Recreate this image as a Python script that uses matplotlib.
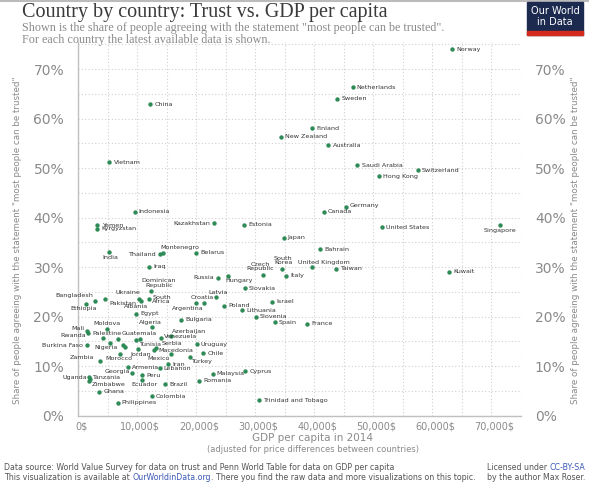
import matplotlib
matplotlib.use("Agg")
import matplotlib.pyplot as plt
from matplotlib.patches import Rectangle
from matplotlib.ticker import FuncFormatter, MultipleLocator
from matplotlib.transforms import ScaledTranslation

# ---------------- data ----------------
countries = [
    "Norway", "Netherlands", "Sweden", "China", "Finland", "New Zealand", "Australia",
    "Vietnam", "Saudi Arabia", "Switzerland", "Hong Kong", "Germany", "Canada",
    "Indonesia", "Kazakhstan", "Estonia", "Singapore", "Yemen", "United States",
    "Kyrgyzstan", "Japan", "Bahrain", "India", "Montenegro", "Belarus", "Thailand",
    "Iraq", "United Kingdom", "South Korea", "Taiwan", "Kuwait", "Czech Republic",
    "Italy", "Hungary", "Russia", "Slovakia", "Dominican Republic", "Latvia",
    "Ukraine", "South Africa", "Pakistan", "Bangladesh", "Albania", "Israel",
    "Croatia", "Argentina", "Ethiopia", "Poland", "Lithuania", "Egypt", "Slovenia",
    "Bulgaria", "Spain", "France", "Algeria", "Moldova", "Mali", "Rwanda",
    "Azerbaijan", "Palestine", "Venezuela", "Guatemala", "Tunisia", "Serbia",
    "Uruguay", "Nigeria", "Burkina Faso", "Macedonia", "Jordan", "Chile", "Mexico",
    "Morocco", "Turkey", "Zambia", "Iran", "Armenia", "Lebanon", "Cyprus",
    "Georgia", "Malaysia", "Peru", "Uganda", "Tanzania", "Ecuador", "Zimbabwe",
    "Romania", "Brazil", "Ghana", "Colombia", "Trinidad and Tobago", "Philippines",
]
gdp_per_capita = [
    63300, 46500, 43900, 12200, 39700, 34400, 42400,
    5300, 47300, 57500, 51000, 45300, 41600,
    9600, 23100, 28100, 71400, 3300, 51500,
    3300, 34800, 41000, 5200, 14400, 20000, 13900,
    12000, 39600, 34500, 43600, 62800, 31300,
    35200, 25400, 23700, 28200, 12400, 23300,
    10300, 12000, 4600, 2900, 10700, 32800,
    21400, 20000, 1400, 24800, 27800, 9800, 30100,
    17400, 33300, 38800, 12600, 4900, 1600, 1700,
    15700, 4300, 14000, 6800, 9800, 13200,
    20100, 5400, 1600, 12900, 10200, 21200, 15700,
    7100, 19000, 3700, 15300, 8500, 13800, 28300,
    9200, 22800, 10800, 1900, 2100, 10900, 1900,
    20500, 14700, 3600, 12500, 30700, 6700,
]
trust_share = [
    74.0, 66.4, 64.0, 62.9, 58.1, 56.3, 54.6,
    51.2, 50.6, 49.6, 48.4, 42.1, 41.2,
    41.2, 38.9, 38.6, 38.6, 38.5, 38.1,
    37.7, 35.9, 33.6, 33.0, 32.9, 32.9, 32.6,
    30.1, 30.0, 29.7, 29.7, 29.1, 28.5,
    28.2, 28.2, 27.8, 25.7, 25.1, 23.9,
    23.6, 23.5, 23.5, 23.2, 23.1, 23.0,
    22.8, 22.7, 22.5, 22.2, 21.3, 20.6, 20.0,
    19.4, 18.9, 18.5, 17.8, 17.5, 17.1, 16.7,
    16.1, 15.7, 15.7, 15.5, 15.3, 13.7,
    14.4, 14.6, 14.2, 13.2, 13.4, 12.6, 12.4,
    12.4, 11.9, 11.0, 10.4, 9.8, 9.7, 8.9,
    8.6, 8.4, 8.1, 7.7, 7.4, 7.2, 7.0,
    7.0, 6.3, 4.8, 3.9, 3.1, 2.6,
]
# unlabeled points
extra_gdp = [7600, 8000, 10500]
extra_trust = [14.2, 13.9, 15.4]

display_names = {
    "South Korea": "South\nKorea",
    "Czech Republic": "Czech\nRepublic",
    "Dominican Republic": "Dominican\nRepublic",
    "South Africa": "South\nAfrica",
}

y_ticks = [0, 10, 20, 30, 40, 50, 60, 70]
x_ticks = [0, 10000, 20000, 30000, 40000, 50000, 60000, 70000]

title = "Country by country: Trust vs. GDP per capita"
subtitle1 = 'Shown is the share of people agreeing with the statement "most people can be trusted".'
subtitle2 = "For each country the latest available data is shown."
ylabel = 'Share of people agreeing with the statement "most people can be trusted"'
xlabel1 = "GDP per capita in 2014"
xlabel2 = "(adjusted for price differences between countries)"

# ---------------- label placement (style) ----------------
# name: (dx pt, dy pt, ha)
place = {
    "Singapore": (0, -4.5, "center"),
    "Kazakhstan": (-3, 0, "right"),
    "Thailand": (-3, 0, "right"),
    "Russia": (-3, 0, "right"),
    "India": (1.3, -3.6, "center"),
    "Montenegro": (-2, 3.6, "left"),
    "United Kingdom": (8.6, 3.6, "center"),
    "South Korea": (1, 5.8, "center"),
    "Czech Republic": (-1.8, 5.8, "center"),
    "Hungary": (-1.9, -3.6, "left"),
    "Dominican Republic": (5.5, 6.0, "center"),
    "Latvia": (1.7, 3.6, "center"),
    "Ukraine": (-7.5, 4.8, "center"),
    "South Africa": (2.4, 0, "left"),
    "Pakistan": (2.7, -2.9, "left"),
    "Bangladesh": (-1, 3.6, "right"),
    "Albania": (-3.6, -4.0, "center"),
    "Croatia": (-1.7, 3.6, "center"),
    "Argentina": (-6.1, -3.6, "center"),
    "Ethiopia": (-2, -3.4, "center"),
    "Algeria": (-1.6, 3.3, "center"),
    "Moldova": (0.2, 3.6, "center"),
    "Mali": (-2.2, 1.4, "right"),
    "Rwanda": (-1.7, -1.7, "right"),
    "Azerbaijan": (1, 3.4, "left"),
    "Palestine": (2.4, 3.2, "center"),
    "Guatemala": (2.4, 3.9, "left"),
    "Venezuela": (2, 1.2, "left"),
    "Tunisia": (2.0, -3.3, "left"),
    "Serbia": (4.2, 3.2, "left"),
    "Nigeria": (-2.9, -3.4, "center"),
    "Burkina Faso": (-3, 0, "right"),
    "Jordan": (2, -3.6, "center"),
    "Mexico": (-8.4, -2.9, "center"),
    "Morocco": (-0.7, -2.9, "center"),
    "Turkey": (0.5, -3.6, "left"),
    "Zambia": (-4, 2.9, "right"),
    "Lebanon": (3, -1, "left"),
    "Georgia": (-1.5, 0.7, "right"),
    "Uganda": (-1.5, 0, "right"),
    "Tanzania": (1.5, 1, "left"),
    "Zimbabwe": (2, -2.4, "left"),
    "Ecuador": (1.6, -3.6, "center"),
    "Germany": (3, 1, "left"),
}

# ---------------- figure ----------------
W, H = 589, 484
fig = plt.figure(figsize=(W / 100, H / 100), dpi=100)
fig.patch.set_facecolor("white")

ax_l, ax_r, ax_t, ax_b = 78, 521, 42, 415.5
ax = fig.add_axes([ax_l / W, 1 - ax_b / H, (ax_r - ax_l) / W, (ax_b - ax_t) / H])
ax.set_xlim(0, 75000)
ax.set_ylim(0, 75.5)

dot_color = "#2e8b57"
ax.scatter(gdp_per_capita, trust_share, s=10, color=dot_color, zorder=3, linewidths=0)
ax.scatter(extra_gdp, extra_trust, s=10, color=dot_color, zorder=3, linewidths=0)

for name, gx, ty in zip(countries, gdp_per_capita, trust_share):
    dx, dy, ha = place.get(name, (3, 0, "left"))
    ax.annotate(display_names.get(name, name), (gx, ty), xytext=(dx, dy),
                textcoords="offset points", ha=ha, va="center",
                fontsize=4.6, color="#333333", linespacing=0.85, zorder=4)

# grid
ax.xaxis.set_minor_locator(MultipleLocator(5000))
ax.yaxis.set_minor_locator(MultipleLocator(5))
ax.set_xticks(x_ticks)
ax.set_yticks(y_ticks)
ax.grid(True, which="both", linestyle=(0, (1, 2)), color="#d0d0d0", linewidth=0.8)
ax.set_axisbelow(True)

for s in ["top", "right"]:
    ax.spines[s].set_visible(False)
for s in ["left", "bottom"]:
    ax.spines[s].set_color("#c0c0c0")
    ax.spines[s].set_linewidth(1.0)

ax.xaxis.set_major_formatter(FuncFormatter(lambda v, p: f"{int(v):,}$"))
ax.yaxis.set_major_formatter(FuncFormatter(lambda v, p: f"{int(v)}%"))
ax.tick_params(axis="both", which="both", length=0)
ax.tick_params(axis="y", labelsize=10, labelcolor="#8a8a8a", pad=10,
               labelright=True, right=False)
ax.tick_params(axis="x", labelsize=7, labelcolor="#8a8a8a", pad=4)
shift = ScaledTranslation(3 / 100, 0, fig.dpi_scale_trans)
for lab in ax.get_xticklabels():
    lab.set_transform(lab.get_transform() + shift)

# axis labels
fig.text(18 / W, 1 - 240 / H, ylabel, rotation=90, ha="center", va="center",
         fontsize=6.3, color="#8a8a8a")
fig.text(575 / W, 1 - 240 / H, ylabel, rotation=90, ha="center", va="center",
         fontsize=6.3, color="#8a8a8a")
fig.text(313 / W, 1 - 438 / H, xlabel1, ha="center", va="center",
         fontsize=7.5, color="#8a8a8a")
fig.text(313 / W, 1 - 449 / H, xlabel2, ha="center", va="center",
         fontsize=6, color="#8a8a8a")

# title & subtitle
fig.text(22 / W, 1 - 12 / H, title, ha="left", va="center",
         fontsize=14.5, color="#3a3a3a", family="Liberation Serif")
fig.text(22 / W, 1 - 27.5 / H, subtitle1, ha="left", va="center",
         fontsize=8.7, color="#8a8a8a", family="Liberation Serif")
fig.text(22 / W, 1 - 40.5 / H, subtitle2, ha="left", va="center",
         fontsize=8.7, color="#8a8a8a", family="Liberation Serif")

# logo
fig.patches.append(Rectangle((527 / W, 1 - 35 / H), 56 / W, 33 / H,
                             transform=fig.transFigure, color="#1b2a4e", zorder=5))
fig.patches.append(Rectangle((527 / W, 1 - 35 / H), 56 / W, 4 / H,
                             transform=fig.transFigure, color="#d42b1e", zorder=6))
fig.text(555 / W, 1 - 11 / H, "Our World", ha="center", va="center",
         fontsize=7, color="white", zorder=7)
fig.text(555 / W, 1 - 22 / H, "in Data", ha="center", va="center",
         fontsize=7, color="white", zorder=7)

# top border line
fig.add_artist(plt.Line2D([0, 1], [1 - 1 / H, 1 - 1 / H], transform=fig.transFigure,
                          color="#bbbbbb", linewidth=1.5))

# footer
fs = 5.7
fc = "#555555"
blue = "#3d5ab8"
renderer = fig.canvas.get_renderer()


def text_width(s):
    t = fig.text(0, 0, s, fontsize=fs)
    w = t.get_window_extent(renderer).width
    t.remove()
    return w


fig.text(4 / W, 1 - 468 / H,
         "Data source: World Value Survey for data on trust and Penn World Table for data on GDP per capita",
         ha="left", va="center", fontsize=fs, color=fc)
p1 = "This visualization is available at "
p2 = "OurWorldinData.org"
p3 = ". There you find the raw data and more visualizations on this topic."
x0 = 4
fig.text(x0 / W, 1 - 478 / H, p1, ha="left", va="center", fontsize=fs, color=fc)
x0 += text_width(p1)
fig.text(x0 / W, 1 - 478 / H, p2, ha="left", va="center", fontsize=fs, color=blue)
x0 += text_width(p2)
fig.text(x0 / W, 1 - 478 / H, p3, ha="left", va="center", fontsize=fs, color=fc)

fig.text(585 / W, 1 - 468 / H, "CC-BY-SA", ha="right", va="center",
         fontsize=fs, color=blue)
fig.text((585 - text_width("CC-BY-SA")) / W, 1 - 468 / H, "Licensed under ",
         ha="right", va="center", fontsize=fs, color=fc)
fig.text(585 / W, 1 - 478 / H, "by the author Max Roser.", ha="right", va="center",
         fontsize=fs, color=fc)

fig.savefig("out.png", dpi=100, facecolor="white")
